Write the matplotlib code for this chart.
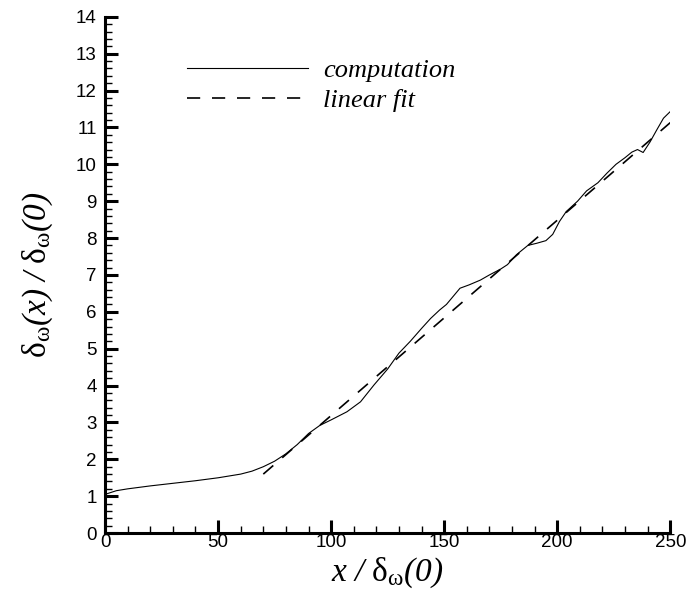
# Imports
import matplotlib
matplotlib.use('Agg')
import matplotlib.pyplot as plt
from matplotlib.ticker import MultipleLocator

# Data
XComputation = [0, 5, 10, 20, 30, 40, 50, 60, 65, 70, 75, 80, 85, 90, 95, 100,
                107, 113, 119, 125, 130, 135, 140, 144, 148, 151, 154, 157, 161,
                166, 170, 175, 178, 182, 187, 191, 195, 198, 201, 204, 209, 213,
                218, 222, 226, 230, 233, 235.5, 238, 241, 244, 247, 250]
YComputation = [1.05, 1.15, 1.20, 1.28, 1.35, 1.42, 1.50, 1.60, 1.68, 1.80, 1.95,
                2.15, 2.40, 2.70, 2.92, 3.07, 3.29, 3.56, 4.02, 4.45, 4.88, 5.20,
                5.55, 5.82, 6.05, 6.20, 6.42, 6.64, 6.73, 6.86, 7.00, 7.16, 7.28,
                7.55, 7.80, 7.86, 7.93, 8.10, 8.45, 8.72, 9.00, 9.28, 9.50, 9.76,
                10.00, 10.18, 10.33, 10.40, 10.32, 10.60, 10.93, 11.25, 11.43]
XFit = [70, 250]
YFit = [1.60, 11.13]

XTicks = [0, 50, 100, 150, 200, 250]
YTicks = list(range(0, 15))

# Fonts: rm is italic (digits/parens fall back to rm), sf is upright for the greek
plt.rcParams['font.family'] = 'Liberation Sans'
plt.rcParams['mathtext.fontset'] = 'custom'
plt.rcParams['mathtext.rm'] = 'Liberation Serif:italic'
plt.rcParams['mathtext.it'] = 'Liberation Serif:italic'
plt.rcParams['mathtext.sf'] = 'Liberation Serif'
plt.rcParams['lines.scale_dashes'] = False

fig = plt.figure(figsize=(6.91, 5.99), dpi=100)
ax = fig.add_axes([0.152, 0.110, 0.818, 0.862])

ax.plot(XComputation, YComputation, color='black', linewidth=0.8, label='computation')
ax.plot(XFit, YFit, color='black', linewidth=1.2, linestyle=(0, (9.5, 8.5)), label='linear fit')

ax.set_xlim(0, 250)
ax.set_ylim(0, 14)
ax.set_xticks(XTicks)
ax.set_yticks(YTicks)
ax.xaxis.set_minor_locator(MultipleLocator(10))
ax.yaxis.set_minor_locator(MultipleLocator(0.2))

for side in ['top', 'right']:
    ax.spines[side].set_visible(False)
for side in ['left', 'bottom']:
    ax.spines[side].set_linewidth(2.2)

ax.tick_params(which='major', direction='in', length=9.5, width=2.2, labelsize=13.5)
ax.tick_params(which='minor', direction='in', length=5, width=1.0)
ax.tick_params(axis='x', which='major', pad=1)
ax.tick_params(axis='y', which='major', pad=6)

ax.set_xlabel(r'$x\ /\ \mathsf{\delta}_{\mathsf{\omega}}(0)$', fontsize=24, labelpad=3)
ax.set_ylabel(r'$\mathsf{\delta}_{\mathsf{\omega}}(x)\ /\ \mathsf{\delta}_{\mathsf{\omega}}(0)$', fontsize=24, labelpad=15)

ax.legend(loc='upper left', bbox_to_anchor=(0.103, 0.965), frameon=False,
          handlelength=4.6, handletextpad=0.55, labelspacing=0.25,
          prop={'family': 'Liberation Serif', 'style': 'italic', 'size': 19})

fig.savefig('out.png', dpi=100)
